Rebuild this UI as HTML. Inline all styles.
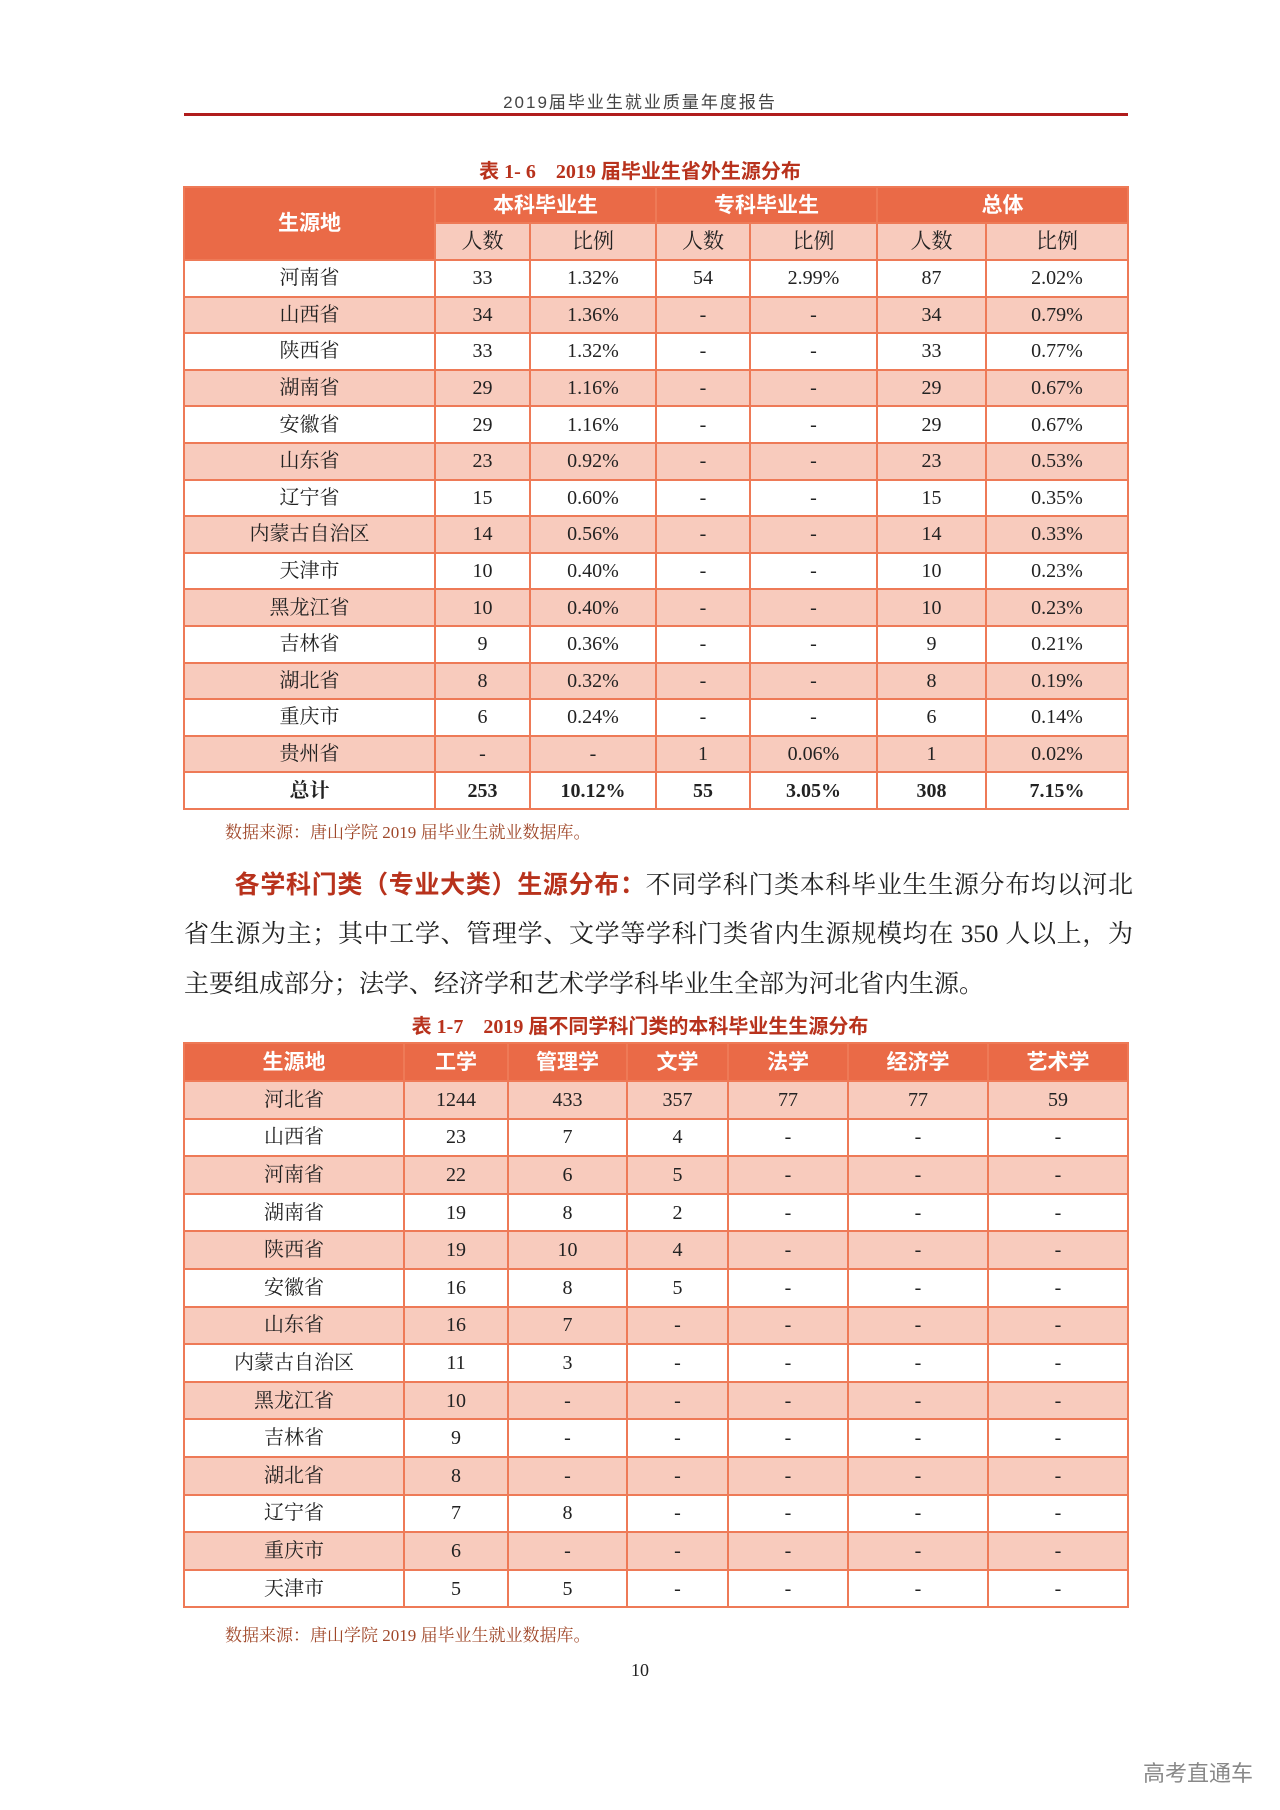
<!DOCTYPE html>
<html><head><meta charset="utf-8">
<style>
body{margin:0;width:1280px;height:1810px;background:#fff;position:relative;overflow:hidden;font-family:"Liberation Serif","Noto Serif CJK SC",serif;color:#222}
.abs{position:absolute}
table{position:absolute;border-collapse:collapse;table-layout:fixed;left:183px;width:944px}
td{border:2px solid #ee7a57;text-align:center;padding:0;font-size:20px;line-height:1}
.h td{background:#ea6a47;color:#fff;font-family:"Liberation Sans","Noto Sans CJK SC",sans-serif;font-weight:bold;font-size:21px}
.s td{background:#f8cbbd;color:#222;font-family:"Liberation Serif","Noto Serif CJK SC",serif;font-weight:normal}
.p td{background:#f8cbbd}
.t{font-family:"Liberation Serif","Noto Sans CJK SC",sans-serif;font-weight:bold;color:#b8321c;font-size:20px;text-align:center;width:1280px;left:0}
.src{color:#a0482a;font-size:17px;left:225px}
.para{left:184px;width:949px;font-size:25px;line-height:50px}
.para div{text-align:justify;text-align-last:justify;height:50px;white-space:nowrap}
</style></head><body>
<div class="abs" style="left:0;width:1280px;text-align:center;top:88px;font-size:17px;letter-spacing:2px;color:#444;font-family:'Liberation Sans','Noto Sans CJK SC',sans-serif">2019届毕业生就业质量年度报告</div>
<div class="abs" style="left:184px;width:944px;top:113px;height:3px;background:#b01c1c"></div>
<div class="abs t" style="top:155px">表 1- 6　2019 届毕业生省外生源分布</div>
<table style="top:186px">
<colgroup><col style="width:251px"><col style="width:95px"><col style="width:126px"><col style="width:94px"><col style="width:127px"><col style="width:109px"><col style="width:142px"></colgroup>
<tr class="h" style="height:36px"><td rowspan="2">生源地</td><td colspan="2">本科毕业生</td><td colspan="2">专科毕业生</td><td colspan="2">总体</td></tr>
<tr class="h s" style="height:37px"><td>人数</td><td>比例</td><td>人数</td><td>比例</td><td>人数</td><td>比例</td></tr>
<tr style="height:36.6px"><td>河南省</td><td>33</td><td>1.32%</td><td>54</td><td>2.99%</td><td>87</td><td>2.02%</td></tr>
<tr class="p" style="height:36.6px"><td>山西省</td><td>34</td><td>1.36%</td><td>-</td><td>-</td><td>34</td><td>0.79%</td></tr>
<tr style="height:36.6px"><td>陕西省</td><td>33</td><td>1.32%</td><td>-</td><td>-</td><td>33</td><td>0.77%</td></tr>
<tr class="p" style="height:36.6px"><td>湖南省</td><td>29</td><td>1.16%</td><td>-</td><td>-</td><td>29</td><td>0.67%</td></tr>
<tr style="height:36.6px"><td>安徽省</td><td>29</td><td>1.16%</td><td>-</td><td>-</td><td>29</td><td>0.67%</td></tr>
<tr class="p" style="height:36.6px"><td>山东省</td><td>23</td><td>0.92%</td><td>-</td><td>-</td><td>23</td><td>0.53%</td></tr>
<tr style="height:36.6px"><td>辽宁省</td><td>15</td><td>0.60%</td><td>-</td><td>-</td><td>15</td><td>0.35%</td></tr>
<tr class="p" style="height:36.6px"><td>内蒙古自治区</td><td>14</td><td>0.56%</td><td>-</td><td>-</td><td>14</td><td>0.33%</td></tr>
<tr style="height:36.6px"><td>天津市</td><td>10</td><td>0.40%</td><td>-</td><td>-</td><td>10</td><td>0.23%</td></tr>
<tr class="p" style="height:36.6px"><td>黑龙江省</td><td>10</td><td>0.40%</td><td>-</td><td>-</td><td>10</td><td>0.23%</td></tr>
<tr style="height:36.6px"><td>吉林省</td><td>9</td><td>0.36%</td><td>-</td><td>-</td><td>9</td><td>0.21%</td></tr>
<tr class="p" style="height:36.6px"><td>湖北省</td><td>8</td><td>0.32%</td><td>-</td><td>-</td><td>8</td><td>0.19%</td></tr>
<tr style="height:36.6px"><td>重庆市</td><td>6</td><td>0.24%</td><td>-</td><td>-</td><td>6</td><td>0.14%</td></tr>
<tr class="p" style="height:36.6px"><td>贵州省</td><td>-</td><td>-</td><td>1</td><td>0.06%</td><td>1</td><td>0.02%</td></tr>
<tr style="height:36.6px"><td style="font-weight:bold">总计</td><td style="font-weight:bold">253</td><td style="font-weight:bold">10.12%</td><td style="font-weight:bold">55</td><td style="font-weight:bold">3.05%</td><td style="font-weight:bold">308</td><td style="font-weight:bold">7.15%</td></tr>
</table>
<div class="abs src" style="top:818px">数据来源：唐山学院 2019 届毕业生就业数据库。</div>
<div class="abs para" style="top:860px">
<div><span style="display:inline-block;width:50px"></span><b style="color:#b8321c;font-family:'Liberation Sans','Noto Sans CJK SC',sans-serif">各学科门类（专业大类）生源分布：</b>不同学科门类本科毕业生生源分布均以河北</div>
<div>省生源为主；其中工学、管理学、文学等学科门类省内生源规模均在 350 人以上，为</div>
<div style="text-align-last:left">主要组成部分；法学、经济学和艺术学学科毕业生全部为河北省内生源。</div>
</div>
<div class="abs t" style="top:1010px">表 1-7　2019 届不同学科门类的本科毕业生生源分布</div>
<table style="top:1042px">
<colgroup><col style="width:220px"><col style="width:104px"><col style="width:119px"><col style="width:101px"><col style="width:120px"><col style="width:140px"><col style="width:140px"></colgroup>
<tr class="h" style="height:38px"><td>生源地</td><td>工学</td><td>管理学</td><td>文学</td><td>法学</td><td>经济学</td><td>艺术学</td></tr>
<tr class="p" style="height:37.6px"><td>河北省</td><td>1244</td><td>433</td><td>357</td><td>77</td><td>77</td><td>59</td></tr>
<tr style="height:37.6px"><td>山西省</td><td>23</td><td>7</td><td>4</td><td>-</td><td>-</td><td>-</td></tr>
<tr class="p" style="height:37.6px"><td>河南省</td><td>22</td><td>6</td><td>5</td><td>-</td><td>-</td><td>-</td></tr>
<tr style="height:37.6px"><td>湖南省</td><td>19</td><td>8</td><td>2</td><td>-</td><td>-</td><td>-</td></tr>
<tr class="p" style="height:37.6px"><td>陕西省</td><td>19</td><td>10</td><td>4</td><td>-</td><td>-</td><td>-</td></tr>
<tr style="height:37.6px"><td>安徽省</td><td>16</td><td>8</td><td>5</td><td>-</td><td>-</td><td>-</td></tr>
<tr class="p" style="height:37.6px"><td>山东省</td><td>16</td><td>7</td><td>-</td><td>-</td><td>-</td><td>-</td></tr>
<tr style="height:37.6px"><td>内蒙古自治区</td><td>11</td><td>3</td><td>-</td><td>-</td><td>-</td><td>-</td></tr>
<tr class="p" style="height:37.6px"><td>黑龙江省</td><td>10</td><td>-</td><td>-</td><td>-</td><td>-</td><td>-</td></tr>
<tr style="height:37.6px"><td>吉林省</td><td>9</td><td>-</td><td>-</td><td>-</td><td>-</td><td>-</td></tr>
<tr class="p" style="height:37.6px"><td>湖北省</td><td>8</td><td>-</td><td>-</td><td>-</td><td>-</td><td>-</td></tr>
<tr style="height:37.6px"><td>辽宁省</td><td>7</td><td>8</td><td>-</td><td>-</td><td>-</td><td>-</td></tr>
<tr class="p" style="height:37.6px"><td>重庆市</td><td>6</td><td>-</td><td>-</td><td>-</td><td>-</td><td>-</td></tr>
<tr style="height:37.6px"><td>天津市</td><td>5</td><td>5</td><td>-</td><td>-</td><td>-</td><td>-</td></tr>
</table>
<div class="abs src" style="top:1621px">数据来源：唐山学院 2019 届毕业生就业数据库。</div>
<div class="abs" style="left:0;width:1280px;text-align:center;top:1660px;font-size:18px">10</div>
<div class="abs" style="left:1143px;top:1756px;font-size:22px;color:#888;font-family:'Liberation Sans','Noto Sans CJK SC',sans-serif">高考直通车</div>
</body></html>
